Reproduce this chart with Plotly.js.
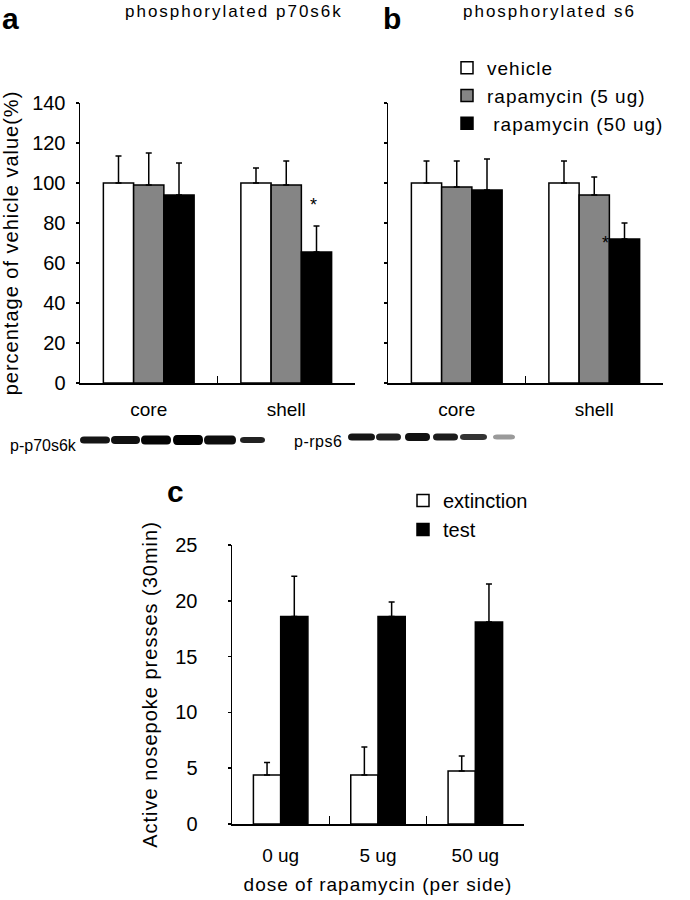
<!DOCTYPE html>
<html>
<head>
<meta charset="utf-8">
<script src="https://cdn.plot.ly/plotly-3.0.1.min.js"></script>
<style>
html,body{margin:0;padding:0;background:#fff;}
#chart{width:690px;height:900px;}
text.legendtext{letter-spacing:1px;}
text.ytitle,text.y3title{letter-spacing:1px;}
text.x3title{letter-spacing:1px;}
</style>
</head>
<body>
<div id="chart"></div>
<script>
// ---- data ----
const regions = ['core', 'shell'];
const seriesNames = ['vehicle', 'rapamycin (5 ug)', ' rapamycin (50 ug)'];
// panel a: phosphorylated p70s6k (% of vehicle)
const p70Vehicle = [100, 100];
const p70VehicleErr = [13.5, 7.5];
const p70Rapa5 = [99, 99];
const p70Rapa5Err = [16, 12];
const p70Rapa50 = [94, 65.5];
const p70Rapa50Err = [16, 13];
// panel b: phosphorylated s6 (% of vehicle)
const s6Vehicle = [100, 100];
const s6VehicleErr = [11, 11];
const s6Rapa5 = [98, 94];
const s6Rapa5Err = [13, 9];
const s6Rapa50 = [96.5, 72];
const s6Rapa50Err = [15.5, 8];
// panel c: active nosepoke presses (30 min)
const doses = ['0 ug', '5 ug', '50 ug'];
const extinction = [4.4, 4.4, 4.75];
const extinctionErr = [1.1, 2.5, 1.35];
const test = [18.6, 18.6, 18.1];
const testErr = [3.6, 1.3, 3.4];
const yTicksAB = [0, 20, 40, 60, 80, 100, 120, 140];
const yTicksC = [0, 5, 10, 15, 20, 25];

// ---- styling ----
const FONT = 'Liberation Sans, Arial, sans-serif';
const W = 690, H = 900;
const px = v => v / W;
const py = v => 1 - v / H;
const colors = ['#ffffff', '#858585', '#000000'];

function upErr(arr) {
  return {type: 'data', symmetric: false, array: arr, arrayminus: arr.map(() => 0),
          color: '#000', thickness: 1.5, width: 3};
}
function bar(x, y, err, name, color, xa, ya, offset, width, showlegend, legend, group) {
  return {type: 'bar', x: x, y: y, name: name, xaxis: xa, yaxis: ya,
          offset: offset, width: width,
          marker: {color: color, line: {color: '#000', width: 1.5}},
          error_y: upErr(err), showlegend: showlegend, legend: legend,
          legendgroup: group, hoverinfo: 'y'};
}
const wAB = 0.22, offAB = [-0.33, -0.11, 0.11];
const wC = 0.28, offC = [-0.28, 0];

const traces = [
  bar(regions, p70Vehicle, p70VehicleErr, seriesNames[0], colors[0], 'x', 'y', offAB[0], wAB, false, 'legend', 'g1'),
  bar(regions, p70Rapa5, p70Rapa5Err, seriesNames[1], colors[1], 'x', 'y', offAB[1], wAB, false, 'legend', 'g2'),
  bar(regions, p70Rapa50, p70Rapa50Err, seriesNames[2], colors[2], 'x', 'y', offAB[2], wAB, false, 'legend', 'g3'),
  bar(regions, s6Vehicle, s6VehicleErr, seriesNames[0], colors[0], 'x2', 'y2', offAB[0], wAB, true, 'legend', 'g1'),
  bar(regions, s6Rapa5, s6Rapa5Err, seriesNames[1], colors[1], 'x2', 'y2', offAB[1], wAB, true, 'legend', 'g2'),
  bar(regions, s6Rapa50, s6Rapa50Err, seriesNames[2], colors[2], 'x2', 'y2', offAB[2], wAB, true, 'legend', 'g3'),
  bar(doses, extinction, extinctionErr, 'extinction', '#ffffff', 'x3', 'y3', offC[0], wC, true, 'legend2', 'c1'),
  bar(doses, test, testErr, 'test', '#000000', 'x3', 'y3', offC[1], wC, true, 'legend2', 'c2')
];

const xBase = {type: 'category', showline: true, linecolor: '#000', linewidth: 1.5,
  ticks: 'inside', tickson: 'boundaries', ticklen: 7, tickwidth: 1.5, tickcolor: '#000',
  showgrid: false, zeroline: false, fixedrange: true,
  tickfont: {family: FONT, size: 19, color: '#000'}};
const yBase = {showline: true, linecolor: '#000', linewidth: 1.5, ticks: 'outside',
  ticklen: 3, tickwidth: 1.5, tickcolor: '#000', showgrid: false, zeroline: false,
  fixedrange: true, tickfont: {family: FONT, size: 20, color: '#000'}};
const spaced = (t, s) => '<span style="letter-spacing:' + s + 'px">' + t + '</span>';

const layout = {
  width: W, height: H, margin: {l: 0, r: 0, t: 0, b: 0},
  paper_bgcolor: '#fff', plot_bgcolor: 'rgba(0,0,0,0)',
  font: {family: FONT, color: '#000'},
  barmode: 'overlay',
  xaxis: Object.assign({}, xBase, {domain: [px(80), px(355)], anchor: 'y', range: [-0.5, 1.5], ticklabelstandoff: 9}),
  yaxis: Object.assign({}, yBase, {domain: [py(383), py(103)], anchor: 'x', range: [0, 140],
    tickvals: yTicksAB, ticklabelstandoff: 6,
    title: {text: 'percentage of vehicle value(%)', font: {family: FONT, size: 20}, standoff: 12}}),
  xaxis2: Object.assign({}, xBase, {domain: [px(388), px(663)], anchor: 'y2', range: [-0.5, 1.5], ticklabelstandoff: 9}),
  yaxis2: Object.assign({}, yBase, {domain: [py(383), py(103)], anchor: 'x2', range: [0, 140],
    tickvals: yTicksAB, showticklabels: false}),
  xaxis3: Object.assign({}, xBase, {domain: [px(232), px(524)], anchor: 'y3', range: [-0.5, 2.5], ticklen: 8,
    ticklabelstandoff: 14,
    title: {text: 'dose of rapamycin (per side)', font: {family: FONT, size: 19}, standoff: 12}}),
  yaxis3: Object.assign({}, yBase, {domain: [py(824), py(545)], anchor: 'x3', range: [0, 25],
    tickvals: yTicksC, ticklabelstandoff: 26,
    title: {text: 'Active nosepoke presses (30min)', font: {family: FONT, size: 20}, standoff: 12}}),
  legend: {x: px(447), xanchor: 'left', y: py(49), yanchor: 'top', tracegroupgap: 6,
    font: {family: FONT, size: 19}, bgcolor: 'rgba(0,0,0,0)', traceorder: 'normal'},
  legend2: {x: px(403), xanchor: 'left', y: py(481), yanchor: 'top', tracegroupgap: 3,
    font: {family: FONT, size: 20}, bgcolor: 'rgba(0,0,0,0)', traceorder: 'normal'},
  annotations: [
    {text: '<b>a</b>', xref: 'paper', yref: 'paper', x: px(0), y: py(0), xanchor: 'left', yanchor: 'top', showarrow: false, font: {family: FONT, size: 30}},
    {text: '<b>b</b>', xref: 'paper', yref: 'paper', x: px(381), y: py(0), xanchor: 'left', yanchor: 'top', showarrow: false, font: {family: FONT, size: 30}},
    {text: '<b>c</b>', xref: 'paper', yref: 'paper', x: px(165), y: py(473), xanchor: 'left', yanchor: 'top', showarrow: false, font: {family: FONT, size: 30}},
    {text: spaced('phosphorylated p70s6k', 2), xref: 'paper', yref: 'paper', x: px(234), y: py(12), xanchor: 'center', yanchor: 'middle', showarrow: false, font: {family: FONT, size: 17}},
    {text: spaced('phosphorylated s6', 2), xref: 'paper', yref: 'paper', x: px(549), y: py(12), xanchor: 'center', yanchor: 'middle', showarrow: false, font: {family: FONT, size: 17}},
    {text: 'p-p70s6k', xref: 'paper', yref: 'paper', x: px(8), y: py(445), xanchor: 'left', yanchor: 'middle', showarrow: false, font: {family: FONT, size: 16}},
    {text: spaced('p-rps6', 0.5), xref: 'paper', yref: 'paper', x: px(292), y: py(442), xanchor: 'left', yanchor: 'middle', showarrow: false, font: {family: FONT, size: 16}},
    {text: '*', xref: 'x', yref: 'y', x: 1 + offAB[2] + wAB / 2 - 0.02, y: p70Rapa50[1] + p70Rapa50Err[1] + 10.5, xanchor: 'center', yanchor: 'middle', showarrow: false, font: {family: FONT, size: 18}},
    {text: '*', xref: 'x2', yref: 'y2', x: 1 + offAB[2] - 0.025, y: s6Rapa50[1] - 2, xanchor: 'center', yanchor: 'middle', showarrow: false, font: {family: FONT, size: 18}}
  ],
  shapes: []
};

// western blot band decoration (lane x-range in px, half height, shade)
const blotA = [[80,110,3.5,'#151515'],[111,140,4,'#111'],[141,171,4.5,'#050505'],[173,203,5,'#000'],[204,236,4.5,'#0d0d0d'],[240,265,3,'#222']];
const blotB = [[348,375,3.5,'#151515'],[376,401,3.5,'#222'],[405,430,4,'#111'],[433,458,3.5,'#1c1c1c'],[460,487,3,'#333'],[493,515,2.5,'#9a9a9a']];
function lanePath(x0, x1, yc, hh) {
  const r = 4;
  const X0 = px(x0), X1 = px(x1), XR0 = px(x0 + r), XR1 = px(x1 - r);
  const Y0 = py(yc - hh), Y1 = py(yc + hh), YC = py(yc);
  return `M${X0},${YC} Q${X0},${Y0} ${XR0},${Y0} L${XR1},${Y0} Q${X1},${Y0} ${X1},${YC} Q${X1},${Y1} ${XR1},${Y1} L${XR0},${Y1} Q${X0},${Y1} ${X0},${YC} Z`;
}
blotA.forEach(l => layout.shapes.push({type: 'path', xref: 'paper', yref: 'paper', path: lanePath(l[0], l[1], 440, l[2]), fillcolor: l[3], line: {width: 0}, layer: 'above'}));
blotB.forEach(l => layout.shapes.push({type: 'path', xref: 'paper', yref: 'paper', path: lanePath(l[0], l[1], 437, l[2]), fillcolor: l[3], line: {width: 0}, layer: 'above'}));

Plotly.newPlot('chart', traces, layout, {displayModeBar: false, staticPlot: true});
</script>
</body>
</html>
